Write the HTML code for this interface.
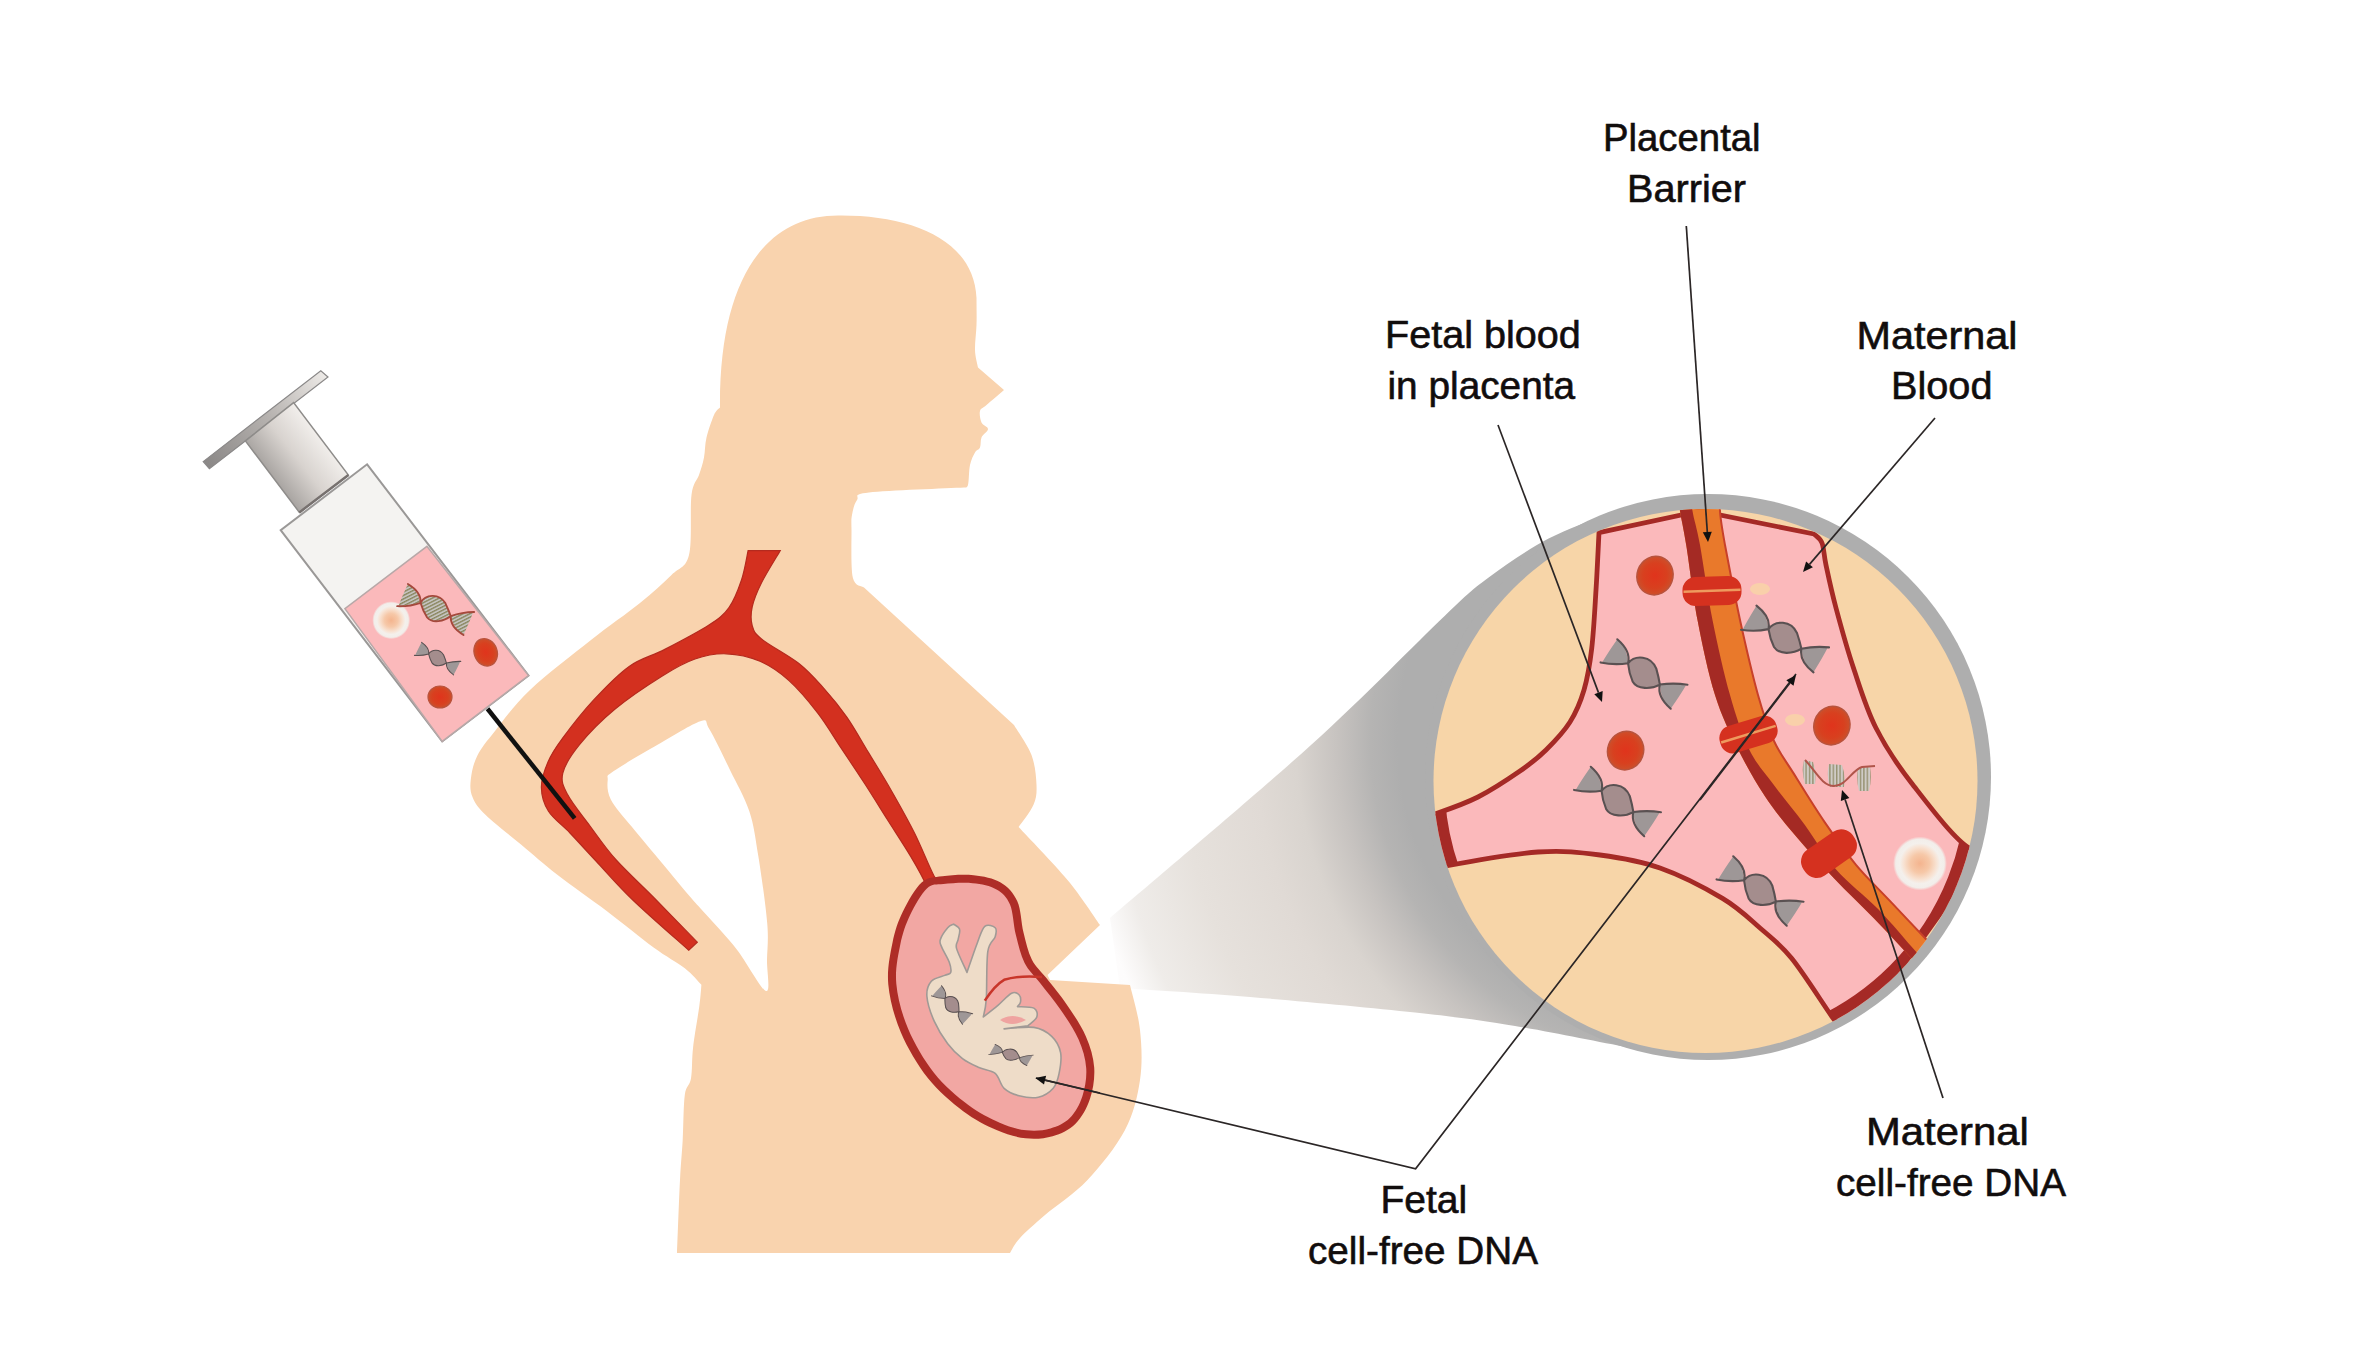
<!DOCTYPE html>
<html><head><meta charset="utf-8"><style>
html,body{margin:0;padding:0;background:#fff;width:2356px;height:1346px;overflow:hidden}
svg{display:block}
</style></head><body>
<svg width="2356" height="1346" viewBox="0 0 2356 1346">
<defs>
<radialGradient id="rbc" cx="0.5" cy="0.5" r="0.55">
 <stop offset="0" stop-color="#E0341C"/><stop offset="0.6" stop-color="#D8401F"/><stop offset="1" stop-color="#C9542E"/>
</radialGradient>
<radialGradient id="coneg" cx="1690" cy="740" r="680" gradientUnits="userSpaceOnUse">
 <stop offset="0" stop-color="#AEAEAE"/><stop offset="0.43" stop-color="#AEAEAE"/><stop offset="0.47" stop-color="#B5B4B3"/><stop offset="0.52" stop-color="#C7C3C0"/><stop offset="0.58" stop-color="#D9D4CF"/><stop offset="0.64" stop-color="#E0DAD5"/><stop offset="0.75" stop-color="#E6E1DC"/><stop offset="0.85" stop-color="#EFECE9"/><stop offset="0.9" stop-color="#FDFCFC"/><stop offset="1" stop-color="#FFFFFF"/>
</radialGradient>
<linearGradient id="rodg" x1="273.5" y1="478.1" x2="322.1" y2="440.2" gradientUnits="userSpaceOnUse">
 <stop offset="0" stop-color="#A9A5A2"/><stop offset="0.5" stop-color="#D8D3CF"/><stop offset="1" stop-color="#F1EEEB"/>
</linearGradient>
<linearGradient id="plateg" x1="206" y1="465" x2="324" y2="374" gradientUnits="userSpaceOnUse">
 <stop offset="0" stop-color="#8A8786"/><stop offset="0.55" stop-color="#B8B4B1"/><stop offset="1" stop-color="#ECE9E6"/>
</linearGradient>
<clipPath id="circ"><circle cx="1705.5" cy="781" r="272"/></clipPath>
<clipPath id="lowc"><rect x="1380" y="800" width="700" height="400"/></clipPath>
<clipPath id="placc"><path d="M1599,532.7 L1700,511 L1814,534 C1815.3,535.5 1820,537.8 1822,543 C1824,548.2 1823.7,554.2 1826,565 C1828.3,575.8 1831.4,590.8 1836,608 C1840.6,625.2 1846.8,648 1853.5,668 C1860.2,688 1866.3,708.8 1876,728 C1885.7,747.2 1895.9,763 1911.5,783 C1927.1,803 1954.8,840.2 1969.5,848 C1984.2,855.8 1994.9,833 2000,830 L1850,1040 C1847.2,1036.4 1842.7,1031.8 1833,1018.2 C1823.3,1004.6 1803.8,973.3 1791.6,958.3 C1779.4,943.3 1771.5,938 1760,928 C1748.5,918 1739.2,908.4 1722.5,898.4 C1705.8,888.4 1680.4,875.2 1660,868 C1639.6,860.8 1620.3,857.7 1600,855 C1579.7,852.3 1563.7,850.2 1538,852 C1512.3,853.8 1470.7,861.3 1446,866 C1421.3,870.7 1399.3,877.7 1390,880 L1380,830 C1389.5,827.2 1420.7,818.7 1437,813.2 C1453.3,807.7 1464.2,804 1478,797 C1491.8,790 1508.7,778.8 1520,771 C1531.3,763.2 1537.7,758.2 1546,750 C1554.3,741.8 1563.7,732 1570,722 C1576.3,712 1580.4,702.2 1584,690 C1587.6,677.8 1589.7,665.3 1591.7,648.6 C1593.7,631.9 1594.8,609.3 1596,590 C1597.2,570.7 1598.5,542.2 1599,532.7 Z"/></clipPath>
<pattern id="stripeO" width="3.6" height="3.6" patternUnits="userSpaceOnUse" patternTransform="rotate(70)"><rect width="3.6" height="3.6" fill="#C4C2BE"/><rect width="1.6" height="3.6" fill="#8C8862"/></pattern>
<pattern id="stripeV" width="3.4" height="6" patternUnits="userSpaceOnUse"><rect width="3.4" height="6" fill="#CFCBC6"/><rect width="1.4" height="6" fill="#979272"/></pattern>
<radialGradient id="wcell" cx="0.5" cy="0.5" r="0.5">
 <stop offset="0" stop-color="#F4B48E"/><stop offset="0.35" stop-color="#F6C8A8"/><stop offset="0.6" stop-color="#F8E2D2"/><stop offset="0.75" stop-color="#F4F0EC"/><stop offset="0.9" stop-color="#F2EEEA"/><stop offset="1" stop-color="#FBB9BB"/>
</radialGradient>
<g id="dnas">
 <path d="M-42.4,-9.3 Q-30,-7 -16.5,-9.9 Q-18,-26 -28.5,-33.3 Q-38,-18 -42.4,-9.3 Z M-16.5,-9.9 C-10,-19 6,-19 12,-6 Q15,3 16.4,9.7 C8,15 -6,16 -11,8 Q-15,0 -16.5,-9.9 Z M42.4,9.3 Q30,7 16.4,9.7 Q18,26 28.5,33.3 Q38,18 42.4,9.3 Z" fill="url(#stripeO)"/>
 <path d="M-28.5,-33.3 Q-14,-22 -16.5,-9.9 Q-15,0 -11,8 C-6,16 8,15 16.4,9.7 Q30,7 44,8.4 M-44,-9.3 Q-30,-7 -16.5,-9.9 C-10,-19 6,-19 12,-6 Q15,3 16.4,9.7 Q14,22 28.5,33.3" fill="none" stroke="#A5493C" stroke-width="2.2" stroke-linecap="round"/>
</g>
<g id="dna">
 <path d="M-42.4,-9.3 Q-30,-7 -16.5,-9.9 Q-18,-26 -28.5,-33.3 Q-38,-18 -42.4,-9.3 Z M-16.5,-9.9 C-10,-19 6,-19 12,-6 Q15,3 16.4,9.7 C8,15 -6,16 -11,8 Q-15,0 -16.5,-9.9 Z M42.4,9.3 Q30,7 16.4,9.7 Q18,26 28.5,33.3 Q38,18 42.4,9.3 Z" fill="#9E9797"/>
 <path d="M-16.5,-9.9 C-10,-19 6,-19 12,-6 Q15,3 16.4,9.7 C8,15 -6,16 -11,8 Q-15,0 -16.5,-9.9 Z" fill="#A48D8D"/>
 <path d="M-28.5,-33.3 Q-14,-22 -16.5,-9.9 Q-15,0 -11,8 C-6,16 8,15 16.4,9.7 Q30,7 44,8.4 M-44,-9.3 Q-30,-7 -16.5,-9.9 C-10,-19 6,-19 12,-6 Q15,3 16.4,9.7 Q14,22 28.5,33.3" fill="none" stroke="#5A5152" stroke-width="2.1" stroke-linecap="round"/>
</g>
</defs>
<rect width="2356" height="1346" fill="#FFFFFF"/>
<path d="M1110,918 C1143.5,889.2 1255.2,795.4 1311,745 C1366.8,694.6 1414.9,643.9 1444.6,615.9 C1474.3,587.9 1471.7,590.2 1489,577.3 C1506.3,564.4 1528.8,549 1548.6,538.6 C1568.4,528.2 1589.4,520.8 1608,514.9 C1626.6,509 1651.3,505 1660,503 L1708,600 L1690,1058 C1679.8,1056.2 1658.2,1052.8 1629,1047.5 C1599.8,1042.2 1550.7,1031.8 1515,1026 C1479.3,1020.2 1459.2,1017.3 1415,1012.5 C1370.8,1007.7 1299.2,1001.1 1250,997 C1200.8,992.9 1141.7,989.5 1120,988 Z" fill="url(#coneg)"/>
<path d="M839,215.5 C912,215 974,240 976.5,298 C976.5,304.2 976.8,316.7 976.5,325 C976.2,333.3 974.8,342.9 975,350 C975.2,357.1 977.5,364.6 978,367.5 L1004,390 C1001.1,392.5 990.5,401.5 986.5,405 C982.5,408.5 980.8,408.1 980,411 C979.2,413.9 980.2,419.5 981.5,422.5 C982.8,425.5 988,426.5 988,429 C988,431.5 982.8,434.4 981.5,437.5 C980.2,440.6 981.1,445 980,447.5 C978.9,450 976.7,449.6 975,452.5 C973.3,455.4 971.2,459.6 970,465 C968.8,470.4 969,481.2 968,485 C967,488.8 964.7,487.1 964,487.5 C948.2,488.3 886.8,490.4 869,492.5 C851.2,494.6 859.8,496.2 857,500 C854.2,503.8 852.9,510 852,515 C851.1,520 851.4,519.6 851.5,530 C851.6,540.4 850.7,567.9 852.8,577.5 C854.8,587.1 862.1,585.8 864,587.5 L1014,725 C1016.9,730 1027.8,745 1031.5,755 C1035.2,765 1036.2,776.7 1036.5,785 C1036.8,793.3 1036.5,797.7 1033.5,804.7 C1030.5,811.7 1021.1,823.3 1018.6,827 C1026.8,835.8 1053.9,863.7 1067.5,880 C1081.1,896.3 1094.6,917.5 1100,925 L1047.5,975 L1050,980 L1130,985 C1131.7,992.5 1138.3,1014.2 1140,1030 C1141.7,1045.8 1142.5,1063.3 1140,1080 C1137.5,1096.7 1133.8,1113.3 1125,1130 C1116.2,1146.7 1100.8,1165.8 1087.5,1180 C1074.2,1194.2 1056.2,1205.3 1045,1215 C1033.8,1224.7 1025.8,1231.7 1020,1238 C1014.2,1244.3 1011.7,1250.5 1010,1253 L677,1253 C677.5,1240.8 679,1198.8 680,1180 C681,1161.2 681.9,1154.2 682.7,1140 C683.5,1125.8 683.4,1105.3 684.8,1095 C686.2,1084.7 689.6,1086.4 691,1078.4 C692.4,1070.4 691.7,1059.3 693.1,1047.2 C694.5,1035.1 698,1016 699.4,1005.6 C700.8,995.2 701.1,988.3 701.4,984.8 C698.6,982 692.8,974.4 684.8,968.2 C676.8,962 666.6,956.9 653.6,947.4 C640.6,937.9 623.1,923.4 607,911.2 C590.9,899.1 571.3,885.6 557,874.5 C542.7,863.4 533.2,854.7 521.3,844.8 C509.4,834.9 493.8,823 485.7,815.1 C477.6,807.2 475.1,803.2 472.6,797.3 C470.1,791.3 470,786.3 470.8,779.4 C471.6,772.5 473.2,763.8 477.3,755.7 C481.4,747.6 486.4,741.7 495.2,730.7 C504,719.8 514,705.1 530,690 C546,674.9 572.7,654.5 591,640 C609.3,625.5 626.6,613.8 640,603 C653.4,592.2 663.3,583 671.5,575 C679.7,567 685.7,568.3 689,555 C692.3,541.7 689.8,508.3 691.5,495 C693.2,481.7 696.9,481.2 699,475 C701.1,468.8 702.8,463.8 704,457.5 C705.2,451.2 704.8,444.6 706.5,437.5 C708.2,430.4 711.8,420 714,415 C716.2,410 719,408.8 720,407.5 C719,280 765,215 839,215.5 Z" fill="#F9D3AE"/>
<path d="M700.4,721.2 C708.9,718.6 704.4,720.9 709.3,729 C714.2,737.1 723.3,756.2 730,770 C736.7,783.8 744.7,797.2 749.4,811.5 C754.1,825.8 755.3,837.4 758.3,856 C761.3,874.6 765.8,905.6 767.2,922.9 C768.7,940.2 767.2,948.6 767,960 C766.8,971.4 770.9,992.8 765.9,991 C760.9,989.2 746.8,962.2 736.8,949.4 C726.8,936.6 713.6,923 705.6,914 C697.6,905 695.9,903.5 688.8,895.2 C681.7,886.9 672.3,875.4 662.8,864 C653.3,852.6 640.3,837.4 631.6,826.6 C622.9,815.9 614.8,807.3 610.8,799.5 C606.8,791.7 607.3,784.7 607.7,780 C608.1,775.3 605,777.2 613.4,771.3 C621.8,765.4 643.5,753 658,744.6 C672.5,736.2 691.9,723.8 700.4,721.2 Z" fill="#FFFFFF"/>
<path d="M748.1,550.7 L780.2,550.7 C777.1,556.1 766.2,573.4 761.5,582.8 C756.8,592.2 753.8,599.8 752.2,606.9 C750.7,614 750.7,620.2 752.2,625.6 C753.8,631 753.8,632.7 761.5,639 C769.2,645.3 788.2,655 798.6,663.2 C809,671.4 815.7,679.3 823.8,688.3 C831.9,697.3 839.6,706.7 847,717.3 C854.4,727.9 860.8,739.9 868.2,752.1 C875.6,764.3 883.7,777.2 891.4,790.7 C899.1,804.2 907.5,819 914.6,833.2 C921.7,847.4 928.8,865.9 933.9,875.7 C939,885.5 943.1,889.3 945,892 L925,892 C925.2,890.9 928.6,891.3 926.2,885.4 C923.8,879.5 917.2,867.3 910.7,856.4 C904.2,845.5 895.2,831.9 887.5,819.7 C879.8,807.5 872,794.9 864.3,783 C856.6,771.1 848.9,759.8 841.2,748.2 C833.5,736.6 826.7,724.7 818,713.4 C809.3,702.1 798.7,689.3 789,680.6 C779.3,671.9 770.4,665.8 760,661.3 C749.6,656.8 737.3,654.1 726.5,653.8 C715.7,653.4 705.6,655.3 695,659 C684.4,662.7 676,667.4 662.7,675.7 C649.4,684 629,697.5 615.1,709 C601.2,720.5 588.2,733.9 579.5,744.6 C570.8,755.3 564.8,764.9 562.8,773.2 C560.8,781.5 563.1,785.8 567.6,794.6 C572.1,803.4 581.9,815.1 590,826 C598.1,836.9 605.2,847.8 616.2,860 C627.2,872.2 642.2,885.8 655.7,899.5 C669.2,913.2 690.4,935.1 697.3,942.2 L688.8,950.3 C679.5,941.9 648.3,914.9 632.8,900 C617.3,885.1 606.5,872.2 596,861 C585.5,849.8 577.9,841.3 570,833 C562.1,824.7 553.3,818.8 548.5,811.2 C543.7,803.6 541.5,795.6 541.4,787.4 C541.3,779.2 544.5,770.1 548,762 C551.5,753.9 554.7,748.9 562.3,738.6 C569.9,728.3 582.4,712.2 593.5,700.2 C604.6,688.2 617.3,674.9 629.2,666.4 C641.1,657.9 651.5,656.3 664.8,649.4 C678.1,642.5 698.3,632 709,625 C719.7,618 723.6,615 729,607.5 C734.4,600 738.3,589.5 741.5,580 C744.7,570.5 747,555.6 748.1,550.7 Z" fill="#D3301F" stroke="#B52A1E" stroke-width="1.2"/>
<path d="M921.6,882.5 C928.2,876.6 933.7,877.4 942.4,876.2 C951.1,875 963.9,874.2 973.6,875.2 C983.3,876.2 993.3,878.2 1000.6,882.5 C1007.9,886.8 1013.5,892.9 1017.3,901.2 C1021.1,909.5 1021.1,922.7 1023.5,932.4 C1025.9,942.1 1028,951.8 1031.8,959.4 C1035.6,967 1040.5,970.5 1046.4,978.1 C1052.3,985.7 1060.6,995.5 1067.2,1005.2 C1073.8,1014.9 1081.4,1026 1085.9,1036.4 C1090.4,1046.8 1093.5,1057.2 1094.2,1067.6 C1094.9,1078 1093.1,1089.3 1090,1098.7 C1086.9,1108.1 1081.7,1117.5 1075.5,1123.7 C1069.3,1130 1060.9,1133.8 1052.6,1136.2 C1044.3,1138.6 1034.9,1139.3 1025.6,1138.3 C1016.2,1137.3 1006.9,1134.5 996.5,1130 C986.1,1125.5 974.7,1119.9 963.2,1111.2 C951.8,1102.5 938.2,1091.2 927.8,1078 C917.4,1064.8 907.4,1047.8 900.8,1032.2 C894.2,1016.6 889.7,999.3 888.3,984.4 C886.9,969.5 890.1,954.9 892.5,942.8 C894.9,930.7 898,921.6 902.9,911.6 C907.8,901.6 915,888.4 921.6,882.5 Z" fill="#AE2D27"/>
<path d="M926.9,888.5 C932.5,883.3 935.9,885 943.5,884.1 C951.1,883.2 963.9,882.3 972.7,883.2 C981.6,884 990.3,885.8 996.5,889.4 C1002.7,892.9 1006.8,897 1010,904.5 C1013.2,912 1013.3,924.6 1015.7,934.3 C1018.2,944.1 1020.6,954.9 1024.6,963 C1028.7,971.1 1034.1,975.2 1040.1,983 C1046.1,990.8 1054.2,1000.3 1060.6,1009.7 C1067,1019.1 1074.3,1029.8 1078.6,1039.6 C1082.8,1049.3 1085.6,1058.7 1086.2,1068.1 C1086.9,1077.6 1085.1,1087.8 1082.4,1096.2 C1079.7,1104.5 1075.2,1112.7 1069.8,1118.1 C1064.5,1123.4 1057.6,1126.5 1050.4,1128.5 C1043.1,1130.6 1034.9,1131.3 1026.5,1130.3 C1018,1129.4 1009.4,1126.9 999.7,1122.7 C989.9,1118.4 979,1113.1 968,1104.8 C957.1,1096.6 944.1,1085.7 934.1,1073 C924.1,1060.4 914.5,1044 908.2,1029.1 C901.9,1014.2 897.6,997.8 896.3,983.7 C895,969.5 898,955.8 900.3,944.4 C902.7,932.9 905.7,924.4 910.1,915.1 C914.5,905.8 921.4,893.6 926.9,888.5 Z" fill="#F2A7A3"/>
<path d="M953.6,924.1 C954.6,925 958.9,926.7 959.6,929.3 C960.4,931.9 958.6,936.5 958.1,939.7 C957.6,942.9 955.1,943.2 956.6,948.6 C958.1,954 965.3,968.4 967,972.4 C968.7,967.5 974.4,950.4 977.4,942.7 C980.4,935 981.8,928.8 984.8,926.3 C987.8,923.8 993.5,926.1 995.2,927.8 C996.9,929.5 996.4,932.7 995.2,936.7 C994,940.7 989.3,941.2 987.8,951.6 C986.3,962 987,988.2 986.3,999.1 C985.5,1010 983.8,1014 983.3,1017 C985.8,1015 993.5,1009.1 998.2,1005.1 C1002.9,1001.1 1008.1,994.9 1011.6,993.2 C1015.1,991.5 1017.5,993.2 1019,994.7 C1020.5,996.2 1020.8,1000.1 1020.5,1002.1 C1020.2,1004.1 1018,1005.9 1017.5,1006.6 C1020.2,1006.9 1030.7,1006.4 1033.9,1008.1 C1037.1,1009.8 1037.8,1014 1036.8,1017 C1035.8,1020 1029.4,1024.4 1027.9,1025.9 L1004.1,1028.9 C1009.1,1028.7 1026,1026.2 1033.9,1027.4 C1041.8,1028.6 1047.2,1032.1 1051.7,1036.3 C1056.2,1040.5 1059.4,1046.4 1060.6,1052.6 C1061.8,1058.8 1060.3,1067.5 1059.1,1073.4 C1057.9,1079.4 1056.7,1084.3 1053.2,1088.3 C1049.7,1092.3 1044,1096 1038.3,1097.2 C1032.6,1098.4 1024.7,1097.2 1019,1095.7 C1013.3,1094.2 1008.1,1092 1004.1,1088.3 C1000.1,1084.6 999.4,1076.9 995.2,1073.4 C991,1069.9 984.4,1070 978.9,1067.5 C973.4,1065 967.7,1062.6 962.5,1058.6 C957.3,1054.6 952.4,1049.9 947.7,1043.7 C943,1037.5 937.8,1029.3 934.3,1021.4 C930.8,1013.5 927.4,1002.9 926.9,996.2 C926.4,989.5 928.3,984.8 931.3,981.3 C934.3,977.8 941.5,976.9 944.7,975.4 C947.9,973.9 950,974.6 950.7,972.4 C951.5,970.2 950.7,966.2 949.2,962 C947.7,957.8 943.2,950.8 941.7,947.1 C940.2,943.4 939.3,942.9 940.3,939.7 C941.3,936.5 945.5,930.4 947.7,927.8 C949.9,925.2 952.6,924.7 953.6,924.1 Z" fill="#EEDCC8" stroke="#A09A96" stroke-width="1.6" stroke-linejoin="round"/>
<path d="M984.8,1000.6 Q995,985 1004.1,979.8 Q1020,975 1042,977" fill="none" stroke="#C8352A" stroke-width="2.5"/>
<path d="M1000,1020 Q1012,1012 1026,1020 Q1012,1028 1000,1020 Z" fill="#EFA3A0"/>
<use href="#dna" transform="translate(952,1005) rotate(12) scale(0.5)"/>
<use href="#dna" transform="translate(1011,1055) rotate(-8) scale(0.5,0.38)"/>
<circle cx="1708" cy="777" r="283" fill="#AEAEAE"/>
<circle cx="1705.5" cy="781" r="272" fill="#F7D5A8"/>
<g clip-path="url(#circ)"><path d="M1599,532.7 L1700,511 L1814,534 C1815.3,535.5 1820,537.8 1822,543 C1824,548.2 1823.7,554.2 1826,565 C1828.3,575.8 1831.4,590.8 1836,608 C1840.6,625.2 1846.8,648 1853.5,668 C1860.2,688 1866.3,708.8 1876,728 C1885.7,747.2 1895.9,763 1911.5,783 C1927.1,803 1954.8,840.2 1969.5,848 C1984.2,855.8 1994.9,833 2000,830 L1850,1040 C1847.2,1036.4 1842.7,1031.8 1833,1018.2 C1823.3,1004.6 1803.8,973.3 1791.6,958.3 C1779.4,943.3 1771.5,938 1760,928 C1748.5,918 1739.2,908.4 1722.5,898.4 C1705.8,888.4 1680.4,875.2 1660,868 C1639.6,860.8 1620.3,857.7 1600,855 C1579.7,852.3 1563.7,850.2 1538,852 C1512.3,853.8 1470.7,861.3 1446,866 C1421.3,870.7 1399.3,877.7 1390,880 L1380,830 C1389.5,827.2 1420.7,818.7 1437,813.2 C1453.3,807.7 1464.2,804 1478,797 C1491.8,790 1508.7,778.8 1520,771 C1531.3,763.2 1537.7,758.2 1546,750 C1554.3,741.8 1563.7,732 1570,722 C1576.3,712 1580.4,702.2 1584,690 C1587.6,677.8 1589.7,665.3 1591.7,648.6 C1593.7,631.9 1594.8,609.3 1596,590 C1597.2,570.7 1598.5,542.2 1599,532.7 Z" fill="#FBB9BB" stroke="#A52A26" stroke-width="4.8" stroke-linejoin="round"/></g>
<g clip-path="url(#circ)"><g clip-path="url(#placc)"><circle cx="1705.5" cy="781" r="272" fill="none" stroke="#A52A26" stroke-width="22" clip-path="url(#lowc)"/></g></g>
<g clip-path="url(#circ)"><path d="M1678,490 C1678.3,493.5 1678.6,501.8 1680,511 C1681.4,520.2 1683.3,526.8 1686.2,545 C1689.2,563.2 1692.7,595 1697.5,620 C1702.3,645 1708.3,673.5 1715,695 C1721.7,716.5 1729.6,732.1 1737.9,748.9 C1746.2,765.7 1755.3,781.6 1764.6,795.7 C1773.9,809.8 1782.1,819.9 1793.6,833.6 C1805.1,847.3 1820.3,864 1833.7,878.1 C1847.1,892.2 1861.2,905.3 1873.8,918.3 C1886.4,931.3 1898.4,944.1 1909.4,956.1 C1920.4,968.1 1934.9,984.4 1940,990 L1960,975 C1954.5,969.2 1939.1,952.9 1927.3,940.5 C1915.5,928.1 1901.3,913 1889.4,900.4 C1877.5,887.8 1866.8,877.8 1856,864.8 C1845.2,851.8 1835.2,837.6 1824.8,822.4 C1814.4,807.2 1802.1,787.1 1793.6,773.4 C1785,759.7 1779.4,753.1 1773.5,740 C1767.6,726.9 1763.6,715 1758,695 C1752.4,675 1745.5,645 1740,620 C1734.5,595 1728.3,563.2 1725,545 C1721.7,526.8 1720.5,520.2 1720,511 C1719.5,501.8 1721.7,493.5 1722,490 Z" fill="#E9792B"/>
<path d="M1678,490 C1678.3,493.5 1678.6,501.8 1680,511 C1681.4,520.2 1683.3,526.8 1686.2,545 C1689.2,563.2 1692.7,595 1697.5,620 C1702.3,645 1708.3,673.5 1715,695 C1721.7,716.5 1729.6,732.1 1737.9,748.9 C1746.2,765.7 1755.3,781.6 1764.6,795.7 C1773.9,809.8 1782.1,819.9 1793.6,833.6 C1805.1,847.3 1820.3,864 1833.7,878.1 C1847.1,892.2 1861.2,905.3 1873.8,918.3 C1886.4,931.3 1898.4,944.1 1909.4,956.1 C1920.4,968.1 1934.9,984.4 1940,990 L1948,985 C1942.7,979.5 1927.7,964.3 1916.1,951.7 C1904.5,939.1 1891.7,923 1878.3,909.3 C1864.9,895.5 1848.2,883.3 1835.9,869.2 C1823.6,855.1 1815.1,838.8 1804.7,824.7 C1794.3,810.6 1782.8,797.2 1773.5,784.6 C1764.2,772 1756.2,763.8 1749,748.9 C1741.8,734 1736.1,716.5 1730,695 C1723.9,673.5 1717.5,645 1712.5,620 C1707.5,595 1703.3,563.2 1700,545 C1696.7,526.8 1694,520.2 1692.5,511 C1691,501.8 1691.2,493.5 1691,490 Z" fill="#A42A24"/>
<path d="M1722,490 C1721.7,493.5 1719.5,501.8 1720,511 C1720.5,520.2 1721.7,526.8 1725,545 C1728.3,563.2 1734.5,595 1740,620 C1745.5,645 1752.4,675 1758,695 C1763.6,715 1767.6,726.9 1773.5,740 C1779.4,753.1 1785,759.7 1793.6,773.4 C1802.1,787.1 1814.4,807.2 1824.8,822.4 C1835.2,837.6 1845.2,851.8 1856,864.8 C1866.8,877.8 1877.5,887.8 1889.4,900.4 C1901.3,913 1915.5,928.1 1927.3,940.5 C1939.1,952.9 1954.5,969.2 1960,975" fill="none" stroke="#C8402A" stroke-width="2"/></g>
<g transform="translate(1712,591) rotate(-2)"><rect x="-29.5" y="-14.5" width="59" height="29" rx="13.05" fill="#D5311F"/><rect x="-28.5" y="-1.6" width="57" height="2.6" fill="#EE9A5E"/></g>
<g transform="translate(1748.5,734.5) rotate(-17)"><rect x="-29.5" y="-14.0" width="59" height="28" rx="12.6" fill="#D5311F"/><rect x="-28.5" y="-1.6" width="57" height="2.6" fill="#EE9A5E"/></g>
<g transform="translate(1829,853.6) rotate(-35)"><rect x="-30.0" y="-15.5" width="60" height="31" rx="13.950000000000001" fill="#D5311F"/></g>
<ellipse cx="1760" cy="589" rx="10" ry="6" fill="#F8D3A8" opacity="0.9"/>
<ellipse cx="1795" cy="720" rx="10" ry="6" fill="#F8D3A8" opacity="0.9"/>
<ellipse cx="1655" cy="575.6" rx="18" ry="19.5" transform="rotate(20 1655 575.6)" fill="url(#rbc)" stroke="#B8533D" stroke-width="1.4"/>
<ellipse cx="1625.6" cy="750.6" rx="18" ry="19.5" transform="rotate(20 1625.6 750.6)" fill="url(#rbc)" stroke="#B8533D" stroke-width="1.4"/>
<ellipse cx="1831.9" cy="725.6" rx="18" ry="19.5" transform="rotate(20 1831.9 725.6)" fill="url(#rbc)" stroke="#B8533D" stroke-width="1.4"/>
<circle cx="1920" cy="863.5" r="27" fill="url(#wcell)"/>
<use href="#dna" transform="translate(1785,639) rotate(0) scale(1.0)"/>
<use href="#dna" transform="translate(1644,674) rotate(3) scale(1.0)"/>
<use href="#dna" transform="translate(1617.5,801.5) rotate(3) scale(1.0)"/>
<use href="#dna" transform="translate(1760,891) rotate(3) scale(1.0)"/>
<path d="M1804,760 Q1801,772 1805,784 L1815,784 Q1817,772 1813,762 Z M1829,764 Q1826,776 1830,787 L1844,787 Q1846,776 1842,765 Z M1858,768 Q1856,780 1859,791 L1869,791 Q1872,780 1870,767 Z" fill="url(#stripeV)"/>
<path d="M1805,760 C1815,770 1822,786 1834,786 C1846,786 1852,770 1862,767 L1875,766" fill="none" stroke="#B0554A" stroke-width="2"/>
<g>
<path d="M203.2,461.6 L320.8,370.7 L328,377 L209.4,468.7 Z" fill="url(#plateg)" stroke="#8A8888" stroke-width="1.2"/>
<path d="M245.4,440.9 L293.6,402.6 L348.4,475 L299.4,512.4 Z" fill="url(#rodg)" stroke="#8E8C8A" stroke-width="1.5"/>
<path d="M367.1,464.3 L528.5,675.5 L442.2,741.4 L280.7,530.2 Z" fill="#F4F3F1" stroke="#9A9897" stroke-width="2"/>
<line x1="299.4" y1="512.4" x2="348.4" y2="475" stroke="#77716F" stroke-width="2.5"/>
<path d="M426.9,546.3 L528.5,675.5 L442.2,741.4 L344.9,608.6 Z" fill="#FBB9BB" stroke="#B8A8A8" stroke-width="1.5"/>
<line x1="487.5" y1="708.75" x2="574.7" y2="818.4" stroke="#111" stroke-width="4.5"/>
<circle cx="391.2" cy="620.2" r="19" fill="url(#wcell)"/>
<use href="#dnas" transform="translate(435.7,609.5) rotate(-7) scale(0.86)"/>
<use href="#dna" transform="translate(437.6,658.6) rotate(-4) scale(0.52)"/>
<ellipse cx="485.7" cy="652.3" rx="11.5" ry="14" transform="rotate(-20 485.7 652.3)" fill="url(#rbc)" stroke="#B8533D" stroke-width="1.2"/>
<ellipse cx="440" cy="697" rx="12" ry="11" fill="url(#rbc)" stroke="#B8533D" stroke-width="1.2"/>
</g>
<line x1="1686.3" y1="226" x2="1707.3" y2="532" stroke="#2B2626" stroke-width="1.7"/><path d="M1708,542 L1702.8,532.3 L1711.8,531.7 Z" fill="#111"/>
<line x1="1498" y1="425" x2="1598.5" y2="692.6" stroke="#2B2626" stroke-width="1.7"/><path d="M1602,702 L1594.3,694.2 L1602.7,691.1 Z" fill="#111"/>
<line x1="1935" y1="418" x2="1809.5" y2="564.4" stroke="#2B2626" stroke-width="1.7"/><path d="M1803,572 L1806.1,561.5 L1812.9,567.3 Z" fill="#111"/>
<polyline points="1036,1078 1415.6,1168.8 1796,674" fill="none" stroke="#2B2626" stroke-width="1.7"/>
<line x1="1100" y1="1093" x2="1045" y2="1080.2" stroke="#2B2626" stroke-width="1.7"/><path d="M1035.3,1077.9 L1046.1,1075.8 L1044,1084.6 Z" fill="#111"/>
<line x1="1700" y1="800" x2="1789.9" y2="682.9" stroke="#2B2626" stroke-width="1.7"/><path d="M1796,675 L1793.5,685.7 L1786.3,680.2 Z" fill="#111"/>
<line x1="1943" y1="1098" x2="1845.1" y2="799.5" stroke="#2B2626" stroke-width="1.7"/><path d="M1842,790 L1849.4,798.1 L1840.8,800.9 Z" fill="#111"/>
<g font-family="'Liberation Sans', sans-serif" font-size="39" fill="#110D0D" stroke="#110D0D" stroke-width="0.6">
<text x="1603" y="150.5" textLength="157.6" lengthAdjust="spacingAndGlyphs">Placental</text>
<text x="1627" y="201.5" textLength="119.0" lengthAdjust="spacingAndGlyphs">Barrier</text>
<text x="1385" y="348" textLength="195.8" lengthAdjust="spacingAndGlyphs">Fetal blood</text>
<text x="1387.5" y="399.2" textLength="187.6" lengthAdjust="spacingAndGlyphs">in placenta</text>
<text x="1856.5" y="348.5" textLength="161" lengthAdjust="spacingAndGlyphs">Maternal</text>
<text x="1891" y="399.2" textLength="101.5" lengthAdjust="spacingAndGlyphs">Blood</text>
<text x="1380.5" y="1212.7" textLength="86.7" lengthAdjust="spacingAndGlyphs">Fetal</text>
<text x="1308" y="1263.7" textLength="230" lengthAdjust="spacingAndGlyphs">cell-free DNA</text>
<text x="1866" y="1144.8" textLength="162.7" lengthAdjust="spacingAndGlyphs">Maternal</text>
<text x="1836" y="1195.8" textLength="230" lengthAdjust="spacingAndGlyphs">cell-free DNA</text>
</g>
</svg>
</body></html>
